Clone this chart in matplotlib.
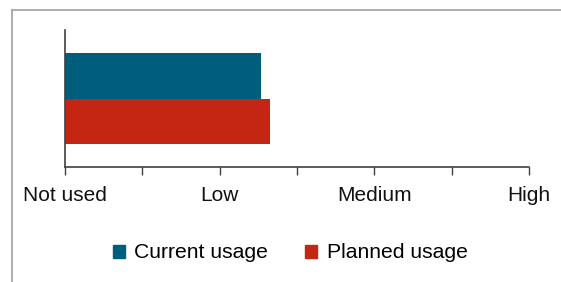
import numpy as np
import matplotlib.pyplot as plt
from matplotlib.patches import Patch
from matplotlib.lines import Line2D

plt.rcParams['font.family'] = ['Liberation Sans', 'DejaVu Sans']

# data (scale: 0=Not used .. 3=High)
series_names = ['Current usage', 'Planned usage']
series_values = [1.27, 1.325]
series_colors = ['#005E7D', '#C52614']
level_labels = ['Not used', 'Low', 'Medium', 'High']

fig = plt.figure(figsize=(5.61, 2.82), dpi=100)

# frame lines (top and left only)
fig.add_artist(Line2D([11.5 / 561, 1.0], [1 - 9.5 / 282] * 2, color='#a0a0a0', lw=1.2))
fig.add_artist(Line2D([11.5 / 561] * 2, [0.0, 1 - 9.5 / 282], color='#a0a0a0', lw=1.2))

ax = fig.add_axes([65 / 561, 1 - 167 / 282, 464 / 561, 137 / 282])

h = 0.35
ax.barh([h / 2], [series_values[0]], height=h, color=series_colors[0])
ax.barh([-h / 2], [series_values[1]], height=h, color=series_colors[1])

ax.set_xlim(0, len(level_labels) - 1)
ax.set_ylim(-0.527, 0.527)
ax.set_xticks(np.arange(len(level_labels)))
ax.set_xticklabels(level_labels, fontsize=15, color='#111111')
ax.set_xticks(np.arange(0.5, len(level_labels) - 1, 1.0), minor=True)
ax.tick_params(axis='x', which='both', direction='out', length=5.5, width=1.0,
               color='#404040', pad=8.0)
ax.set_yticks([])
for s in ['top', 'right']:
    ax.spines[s].set_visible(False)
for s in ['left', 'bottom']:
    ax.spines[s].set_color('#404040')
    ax.spines[s].set_linewidth(1.2)

handles = [Patch(color=c, label=n) for c, n in zip(series_colors, series_names)]
fig.legend(handles=handles, loc='center', bbox_to_anchor=(290 / 561, 1 - 253 / 282),
           ncol=2, frameon=False, fontsize=15.2, handlelength=0.57, handleheight=0.57,
           handletextpad=0.45, columnspacing=1.75)

fig.savefig('out.png', dpi=100)
